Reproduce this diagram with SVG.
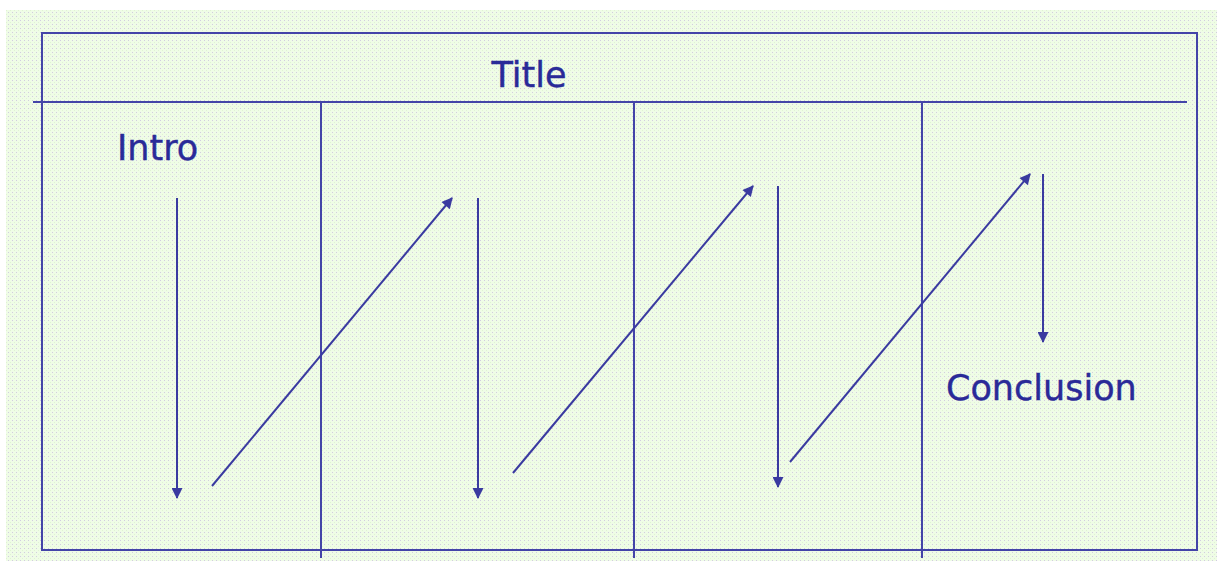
<svg xmlns="http://www.w3.org/2000/svg" width="1217" height="561" viewBox="0 0 1217 561">
<style>
.ln{stroke:#4444a8;stroke-width:2;fill:none}
.ar{stroke:#3a3aa0;stroke-width:2;fill:none;marker-end:url(#ah)}
.tx{font-family:"DejaVu Sans",Verdana,sans-serif;font-size:35px;fill:#2a2a98;stroke:#2a2a98;stroke-width:0.4}
</style>
<defs>
<pattern id="bg" width="4" height="4" patternUnits="userSpaceOnUse">
<rect width="4" height="4" fill="#effce6"/>
<rect x="0" y="0" width="1" height="1" fill="#d2cce0"/>
<rect x="2" y="2" width="1" height="1" fill="#e0f3d2"/>
</pattern>
<marker id="ah" viewBox="0 0 10 10" refX="9" refY="5" markerWidth="13" markerHeight="11" markerUnits="userSpaceOnUse" orient="auto">
<path d="M0,0 L10,5 L0,10 z" fill="#3a3aa0"/>
</marker>
</defs>
<rect width="1217" height="561" fill="#ffffff"/>
<rect x="6" y="10" width="1211" height="551" fill="url(#bg)"/>
<g id="frame">
<rect class="ln" x="42" y="33" width="1155" height="517"/>
<line class="ln" x1="33" y1="102" x2="1187" y2="102"/>
<line class="ln" x1="321" y1="102" x2="321" y2="558"/>
<line class="ln" x1="634" y1="102" x2="634" y2="558"/>
<line class="ln" x1="922" y1="102" x2="922" y2="558"/>
</g>
<g id="title"><text class="tx" x="529" y="87" text-anchor="middle">Title</text></g>
<g id="intro"><text class="tx" x="117" y="160">Intro</text></g>
<g id="conclusion"><text class="tx" x="946" y="400">Conclusion</text></g>
<g id="connectors">
<line class="ar" x1="177" y1="198" x2="177" y2="498"/>
<line class="ar" x1="212" y1="486" x2="452" y2="198"/>
<line class="ar" x1="478" y1="198" x2="478" y2="498"/>
<line class="ar" x1="513" y1="473" x2="753" y2="186"/>
<line class="ar" x1="778" y1="186" x2="778" y2="487"/>
<line class="ar" x1="790" y1="462" x2="1030" y2="174"/>
<line class="ar" x1="1043" y1="174" x2="1043" y2="342"/>
</g>
</svg>
